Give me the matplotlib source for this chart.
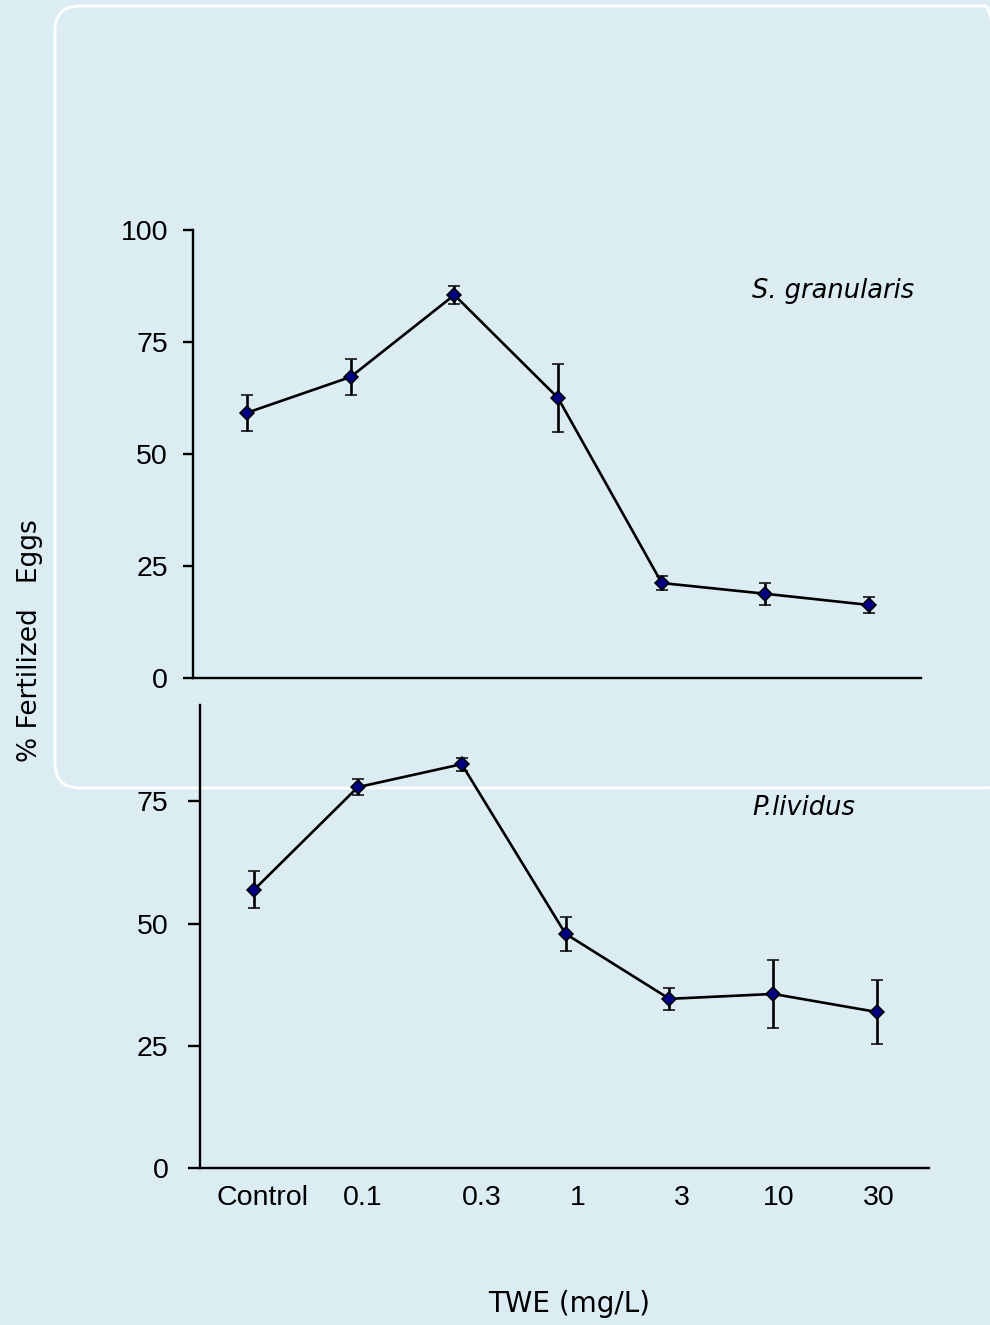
import numpy as np
import matplotlib.pyplot as plt
from matplotlib.patches import FancyBboxPatch

# concentrations (category axis)
doses = ["Control", "0.1", "0.3", "1", "3", "10", "30"]
label_pos = [0.08, 1.05, 2.19, 3.12, 4.12, 5.05, 6.02]

# S. granularis
sg_mean = [59.2, 67.2, 85.5, 62.5, 21.2, 18.8, 16.3]
sg_err = [4.0, 4.0, 2.0, 7.6, 1.5, 2.5, 1.8]

# P. lividus
pl_mean = [56.9, 77.9, 82.6, 47.9, 34.6, 35.6, 31.9]
pl_err = [3.8, 1.7, 1.3, 3.5, 2.3, 7.0, 6.6]

bg = '#dbedf3'
plt.rcParams['font.family'] = ['DejaVu Sans']
tickfont = ['Liberation Sans', 'DejaVu Sans']

fig = plt.figure(figsize=(9.9, 13.25), dpi=100, facecolor=bg)

# rounded frame behind everything
frame = FancyBboxPatch((55 / 990, 1 - 788 / 1325), (990 - 55) / 990 + 0.02, (788 - 6) / 1325,
                       boxstyle="round,pad=0,rounding_size=0.025", transform=fig.transFigure,
                       facecolor='none', edgecolor='white', linewidth=2, zorder=-1,
                       mutation_aspect=990 / 1325)
fig.patches.append(frame)

x = np.arange(len(doses))


def panel(ax, mean, err, ymax, yticks, ticklen, pad):
    ax.set_facecolor('none')
    ax.errorbar(x, mean, yerr=err, color='black', lw=1.9, elinewidth=1.9,
                capsize=4.2, capthick=1.9, marker='D', ms=7.2, mfc='#000080',
                mec='black', mew=1.1, zorder=3)
    ax.set_xlim(-0.52, 6.5)
    ax.set_ylim(0, ymax)
    ax.set_yticks(yticks)
    ax.set_yticklabels([str(t) for t in yticks], family=tickfont, fontsize=20.5)
    for s in ['top', 'right']:
        ax.spines[s].set_visible(False)
    for s in ['left', 'bottom']:
        ax.spines[s].set_linewidth(1.7)
    ax.tick_params(axis='y', length=ticklen, width=1.7, pad=pad)


ax1 = fig.add_axes([193 / 990, 1 - 678 / 1325, 728 / 990, 448 / 1325])
panel(ax1, sg_mean, sg_err, 100, [0, 25, 50, 75, 100], 7, 11)
ax1.set_xticks([])
fig.text(752 / 990, 1 - 291 / 1325, 'S. granularis', style='italic', fontsize=18.5,
         ha='left', va='center')

ax2 = fig.add_axes([200 / 990, 1 - 1168 / 1325, 729 / 990, 463 / 1325])
panel(ax2, pl_mean, pl_err, 94.7, [0, 25, 50, 75], 8.5, 14)
ax2.set_xticks(label_pos)
ax2.set_xticklabels(doses, fontsize=20.5, family=tickfont)
ax2.tick_params(axis='x', length=0, pad=12.5)
fig.text(752 / 990, 1 - 808 / 1325, 'P.lividus', style='italic', fontsize=18.5,
         ha='left', va='center')

fig.text(30 / 990, 1 - 641 / 1325, '% Fertilized   Eggs', rotation=90, fontsize=19,
         ha='center', va='center')
fig.text(569 / 990, 1 - 1304 / 1325, 'TWE (mg/L)', fontsize=20, ha='center', va='center')

fig.savefig('out.png', dpi=100, facecolor=bg)
